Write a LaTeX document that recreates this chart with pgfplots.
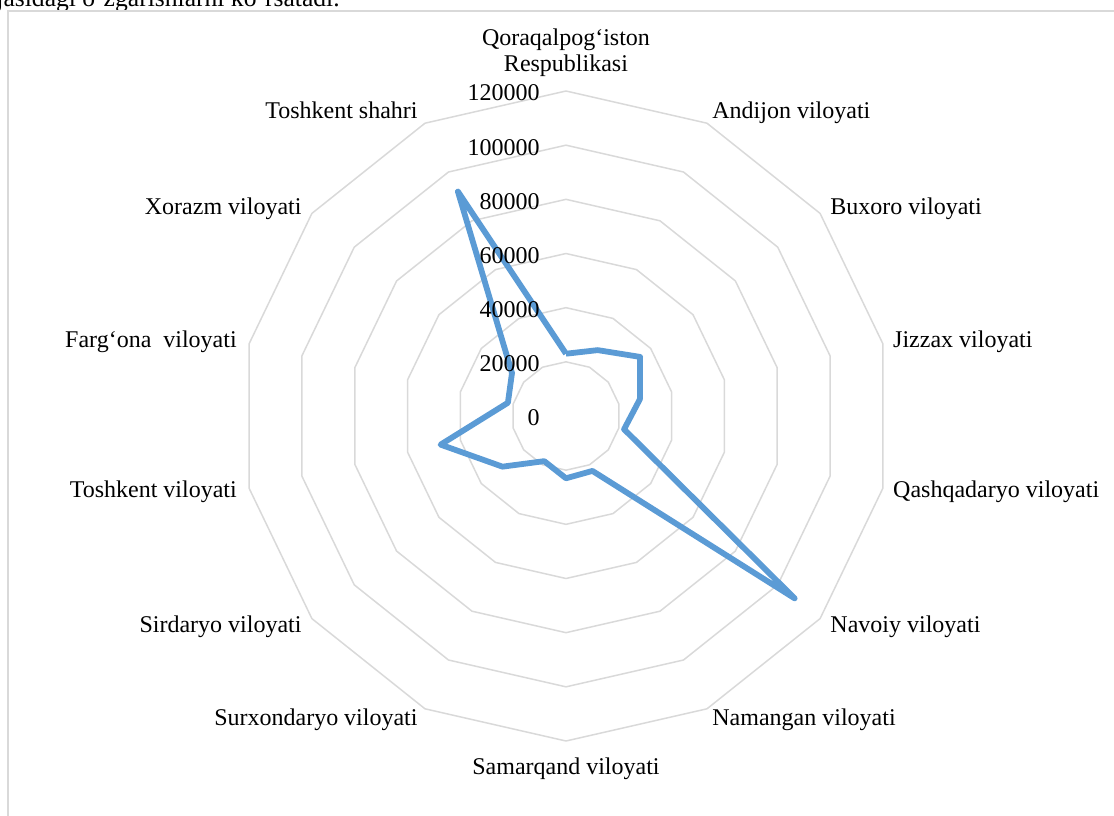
\documentclass[border=0pt]{standalone}
\usepackage{pgfplots}
\pgfplotsset{compat=1.18}
\usepgfplotslibrary{polar}
\usepackage{fontspec}
\setmainfont{Liberation Serif}
\definecolor{gridgray}{HTML}{D9D9D9}
\definecolor{lineblue}{HTML}{5B9BD5}
\begin{document}
\begin{tikzpicture}[lbl/.style={font=\fontsize{12}{12.9}\selectfont, inner sep=0pt}]
\path[use as bounding box] (-283pt,-199.5pt) rectangle (274pt,208pt);
\node[anchor=base west, inner sep=0pt, font=\fontsize{12.8}{14}\selectfont] at (-285pt,204.8pt) {jasidagi o‘zgarishlarni ko‘rsatadi.};
\draw[gridgray, line width=0.75pt] (-279pt,-215pt) -- (-279pt,202.5pt) -- (290pt,202.5pt);
\begin{polaraxis}[
  at={(0,0)}, anchor=center,
  scale only axis, width=325pt, height=325pt,
  xmin=0, xmax=360, ymin=0, ymax=120000,
  hide axis, clip=false,
]
\pgfplotsinvokeforeach{20000,40000,60000,80000,100000,120000}{
\addplot[gridgray, line width=0.75pt, line join=round] coordinates {
(90,#1)(64.2857,#1)(38.5714,#1)(12.8571,#1)(347.1429,#1)(321.4286,#1)(295.7143,#1)
(270,#1)(244.2857,#1)(218.5714,#1)(192.8571,#1)(167.1429,#1)(141.4286,#1)(115.7143,#1)(90,#1)};
}
\addplot[lineblue, line width=2.9pt, line join=round] coordinates {
(90,23000)        % Qoraqalpog'iston Respublikasi
(64.2857,27000)   % Andijon
(38.5714,35000)   % Buxoro
(12.8571,28000)   % Jizzax
(347.1429,22000)  % Qashqadaryo
(321.4286,108000) % Navoiy
(295.7143,22500)  % Namangan
(270,23000)       % Samarqand
(244.2857,18500)  % Surxondaryo
(218.5714,30000)  % Sirdaryo
(192.8571,47500)  % Toshkent viloyati
(167.1429,22000)  % Farg'ona
(141.4286,25500)  % Xorazm
(115.7143,92000)  % Toshkent shahri
(90,23000)};
% category labels
\node[lbl, anchor=south, align=center, yshift=7pt] at (axis cs:90,120000) {Qoraqalpog‘iston\\Respublikasi};
\node[lbl, anchor=base west, xshift=2.5pt, yshift=2.5pt] at (axis cs:64.2857,120000) {Andijon viloyati};
\node[lbl, anchor=base west, xshift=5pt, yshift=-0.5pt] at (axis cs:38.5714,120000) {Buxoro viloyati};
\node[lbl, anchor=base west, xshift=5pt, yshift=-2pt] at (axis cs:12.8571,120000) {Jizzax viloyati};
\node[lbl, anchor=base west, xshift=5pt, yshift=-4.5pt] at (axis cs:347.1429,120000) {Qashqadaryo viloyati};
\node[lbl, anchor=base west, xshift=5pt, yshift=-7pt] at (axis cs:321.4286,120000) {Navoiy viloyati};
\node[lbl, anchor=base west, xshift=2.5pt, yshift=-8.5pt] at (axis cs:295.7143,120000) {Namangan viloyati};
\node[lbl, anchor=base, yshift=-16.5pt] at (axis cs:270,120000) {Samarqand viloyati};
\node[lbl, anchor=base east, xshift=-3.5pt, yshift=-8.5pt] at (axis cs:244.2857,120000) {Surxondaryo viloyati};
\node[lbl, anchor=base east, xshift=-5pt, yshift=-7pt] at (axis cs:218.5714,120000) {Sirdaryo viloyati};
\node[lbl, anchor=base east, xshift=-6pt, yshift=-4.5pt] at (axis cs:192.8571,120000) {Toshkent viloyati};
\node[lbl, anchor=base east, xshift=-6pt, yshift=-2pt] at (axis cs:167.1429,120000) {Farg‘ona\ \ viloyati};
\node[lbl, anchor=base east, xshift=-5pt, yshift=-0.5pt] at (axis cs:141.4286,120000) {Xorazm viloyati};
\node[lbl, anchor=base east, xshift=-3.5pt, yshift=2.5pt] at (axis cs:115.7143,120000) {Toshkent shahri};
% radial tick labels
\pgfplotsinvokeforeach{0,20000,40000,60000,80000,100000,120000}{
\node[lbl, anchor=east, xshift=-13pt, yshift=-1pt] at (axis cs:90,#1) {#1};
}
\end{polaraxis}
\end{tikzpicture}
\end{document}
